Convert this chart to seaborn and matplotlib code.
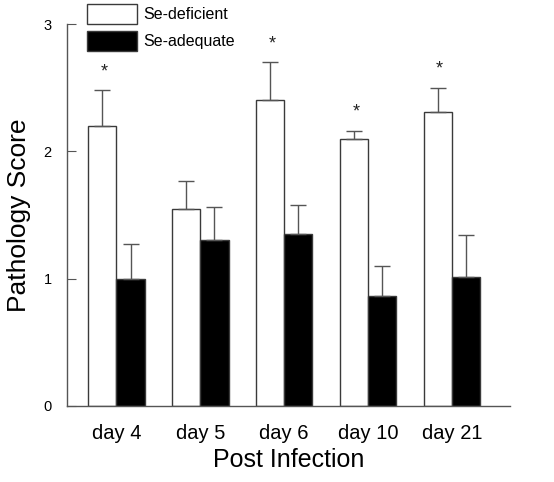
"""
Pathology score by day post infection, Se-deficient vs Se-adequate.
"""

import numpy as np
import pandas as pd

import matplotlib; matplotlib.use('Agg')
import matplotlib.pyplot as plt
import seaborn as sea

days = ['day 4', 'day 5', 'day 6', 'day 10', 'day 21']
groups = ['Se-deficient', 'Se-adequate']

deficient_mean = [2.20, 1.55, 2.40, 2.10, 2.31]
deficient_err  = [0.28, 0.22, 0.30, 0.06, 0.19]
adequate_mean  = [1.00, 1.30, 1.35, 0.86, 1.01]
adequate_err   = [0.27, 0.26, 0.23, 0.24, 0.33]

# days with a significant difference
starred = ['day 4', 'day 6', 'day 10', 'day 21']

df = pd.DataFrame({
    'day': days * 2,
    'group': [groups[0]] * len(days) + [groups[1]] * len(days),
    'score': deficient_mean + adequate_mean,
    'err': deficient_err + adequate_err,
})

plt.rcParams['font.family'] = ['Liberation Sans', 'DejaVu Sans']

fig = plt.figure(figsize=(5.54, 4.82), dpi=100)
ax = fig.add_axes([0.121, 0.158, 0.799, 0.792])

sea.barplot(data=df, x='day', y='score', hue='group', order=days,
    hue_order=groups, palette={groups[0]: 'white', groups[1]: 'black'},
    edgecolor='#3a3a3a', linewidth=1, width=0.675, errorbar=None,
    legend=False, ax=ax)

# one-sided error bars on top of each bar
for cont, g in zip(ax.containers, groups):
    sub = df[df['group'] == g].set_index('day').loc[days]
    xs = [b.get_x() + b.get_width() / 2 for b in cont]
    hs = [b.get_height() for b in cont]
    ax.errorbar(xs, hs, yerr=[np.zeros(len(xs)), sub['err'].values],
                fmt='none', ecolor='#555555', elinewidth=1, capsize=5.5,
                capthick=1, zorder=1)
    if g == groups[0]:
        for x, h, e, d in zip(xs, hs, sub['err'].values, days):
            if d in starred:
                ax.text(x + 2/84.5, h + e + 0.08, '*', ha='center', va='bottom',
                        fontsize=13, color='#222222')

ax.set_xlim(-0.59, 4.69)
ax.set_ylim(0, 3)
ax.set_yticks([0, 1, 2, 3])
ax.tick_params(axis='y', direction='in', length=6.5, width=0.8,
               labelsize=10.5, pad=11, colors='#555555', labelcolor='black')
ax.tick_params(axis='x', length=0, labelsize=14.5, pad=13)
ax.spines['top'].set_visible(False)
ax.spines['right'].set_visible(False)
for s in ['left', 'bottom']:
    ax.spines[s].set_color('#555555')
    ax.spines[s].set_linewidth(1)
ax.set_xlabel('Post Infection', fontsize=18, labelpad=4)
ax.set_ylabel('Pathology Score', fontsize=19, labelpad=9)

handles = [plt.Rectangle((0, 0), 1, 1, facecolor=c, edgecolor='#3a3a3a', linewidth=1)
           for c in ['white', 'black']]
fig.legend(handles=handles, labels=groups, loc='upper left',
           bbox_to_anchor=(87/554, 1 - 4/482), frameon=False, fontsize=11.5,
           handlelength=3.1, handleheight=1.55, labelspacing=0.45,
           handletextpad=0.4, borderpad=0, borderaxespad=0)

plt.savefig('out.png', dpi=100)
plt.close()
